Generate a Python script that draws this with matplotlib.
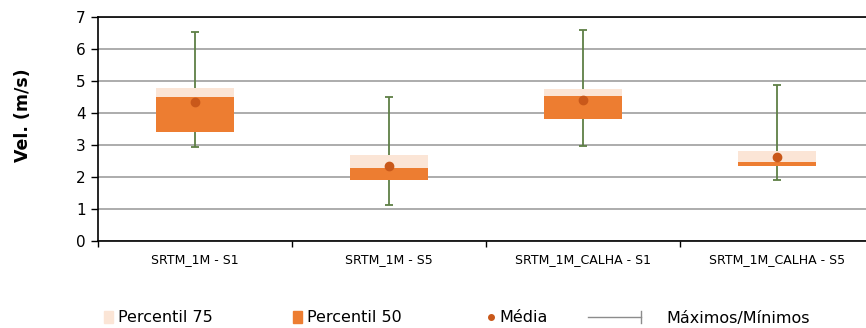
import matplotlib
matplotlib.use("Agg")
import matplotlib.pyplot as plt
import numpy as np
from matplotlib.patches import Patch
from matplotlib.lines import Line2D
from matplotlib.legend_handler import HandlerBase

# Wind speed statistics per simulation / section
categories = ["SRTM_1M - S1", "SRTM_1M - S5", "SRTM_1M_CALHA - S1", "SRTM_1M_CALHA - S5"]
p25 = [3.41, 1.92, 3.81, 2.33]
p50 = [4.49, 2.28, 4.53, 2.46]
p75 = [4.78, 2.68, 4.76, 2.81]
media = [4.33, 2.34, 4.42, 2.63]
maximos = [6.54, 4.51, 6.58, 4.88]
minimos = [2.94, 1.14, 2.98, 1.90]
yticks = [0, 1, 2, 3, 4, 5, 6, 7]

C_DARK = "#ED7D31"
C_LIGHT = "#FBE5D6"
C_MEAN = "#C9581A"
C_WHISK = "#5E7F45"
C_GRID = "#A6A6A6"

plt.rcParams["font.family"] = ["DejaVu Sans"]

W, H = 866, 328
fig = plt.figure(figsize=(W / 100, H / 100), dpi=100)
x0, x1, ybot, ytop = 98, 874, 241, 17
ax = fig.add_axes([x0 / W, (H - ybot) / H, (x1 - x0) / W, (ybot - ytop) / H])

x = np.arange(len(categories))
p25a, p50a, p75a = map(np.array, (p25, p50, p75))
mx, mn = np.array(maximos), np.array(minimos)

# whiskers (min to max) behind the boxes
ax.errorbar(x, (mx + mn) / 2, yerr=(mx - mn) / 2, fmt="none", ecolor=C_WHISK,
            elinewidth=1.3, capsize=2.8, capthick=1.3, zorder=2)
# boxes: dark from P25 to P50, light from P50 to P75
ax.bar(x, p50a - p25a, bottom=p25a, width=0.4, color=C_DARK, zorder=3)
ax.bar(x, p75a - p50a, bottom=p50a, width=0.4, color=C_LIGHT, zorder=3)
ax.plot(x, media, "o", color=C_MEAN, markersize=6, zorder=4)

ax.set_xlim(-0.5, len(categories) - 0.5)
ax.set_ylim(0, 7)
ax.set_yticks(yticks)
ax.yaxis.grid(True, color=C_GRID, linewidth=1.3, zorder=0)
ax.set_axisbelow(True)

ax.set_xticks(np.arange(-0.5, len(categories), 1.0))
ax.set_xticklabels([])
ax.set_xticks(x, minor=True)
ax.set_xticklabels(categories, minor=True, fontsize=9,
                   family=["Liberation Sans Narrow", "DejaVu Sans"])
ax.tick_params(axis="x", which="major", length=4, width=1, direction="out")
ax.tick_params(axis="x", which="minor", length=0, pad=9)
ax.tick_params(axis="y", length=5, width=1, labelsize=11, pad=4)

for s in ("left", "bottom", "top"):
    ax.spines[s].set_color("black")
    ax.spines[s].set_linewidth(1.2)
ax.spines["right"].set_visible(False)

fig.text(23 / W, 1 - 115 / H, "Vel. (m/s)", rotation=90, ha="center", va="center",
         fontsize=12.5, fontweight="bold")


class TickLineHandler(HandlerBase):
    def create_artists(self, legend, orig_handle, xdescent, ydescent, width, height,
                       fontsize, trans):
        y = height / 2 - ydescent
        xe = width - xdescent
        line = Line2D([-xdescent, xe], [y, y], color="#8C8C8C", lw=1.0, transform=trans)
        tick = Line2D([xe, xe], [y - 4, y + 4], color="#8C8C8C", lw=1.0, transform=trans)
        return [line, tick]


leg_y = 1 - 318 / H
entries = [
    (Patch(color=C_LIGHT), "Percentil 75", 104, 0.58, 0.32, None),
    (Patch(color=C_DARK), "Percentil 50", 293, 0.58, 0.32, None),
    (Line2D([], [], marker="o", ls="none", color=C_MEAN, markersize=4), "Média", 487, 0.45, 0.3, None),
    (Line2D([], []), "Máximos/Mínimos", 588, 3.3, 1.6, TickLineHandler()),
]
for handle, label, px, hl, tp, handler in entries:
    kw = {}
    if handler is not None:
        kw["handler_map"] = {Line2D: handler}
    fig.legend([handle], [label], loc="center left", bbox_to_anchor=(px / W, leg_y),
               frameon=False, fontsize=11.5, handlelength=hl, handleheight=0.8,
               handletextpad=tp, borderpad=0, borderaxespad=0, **kw)

fig.savefig("out.png", dpi=100)
